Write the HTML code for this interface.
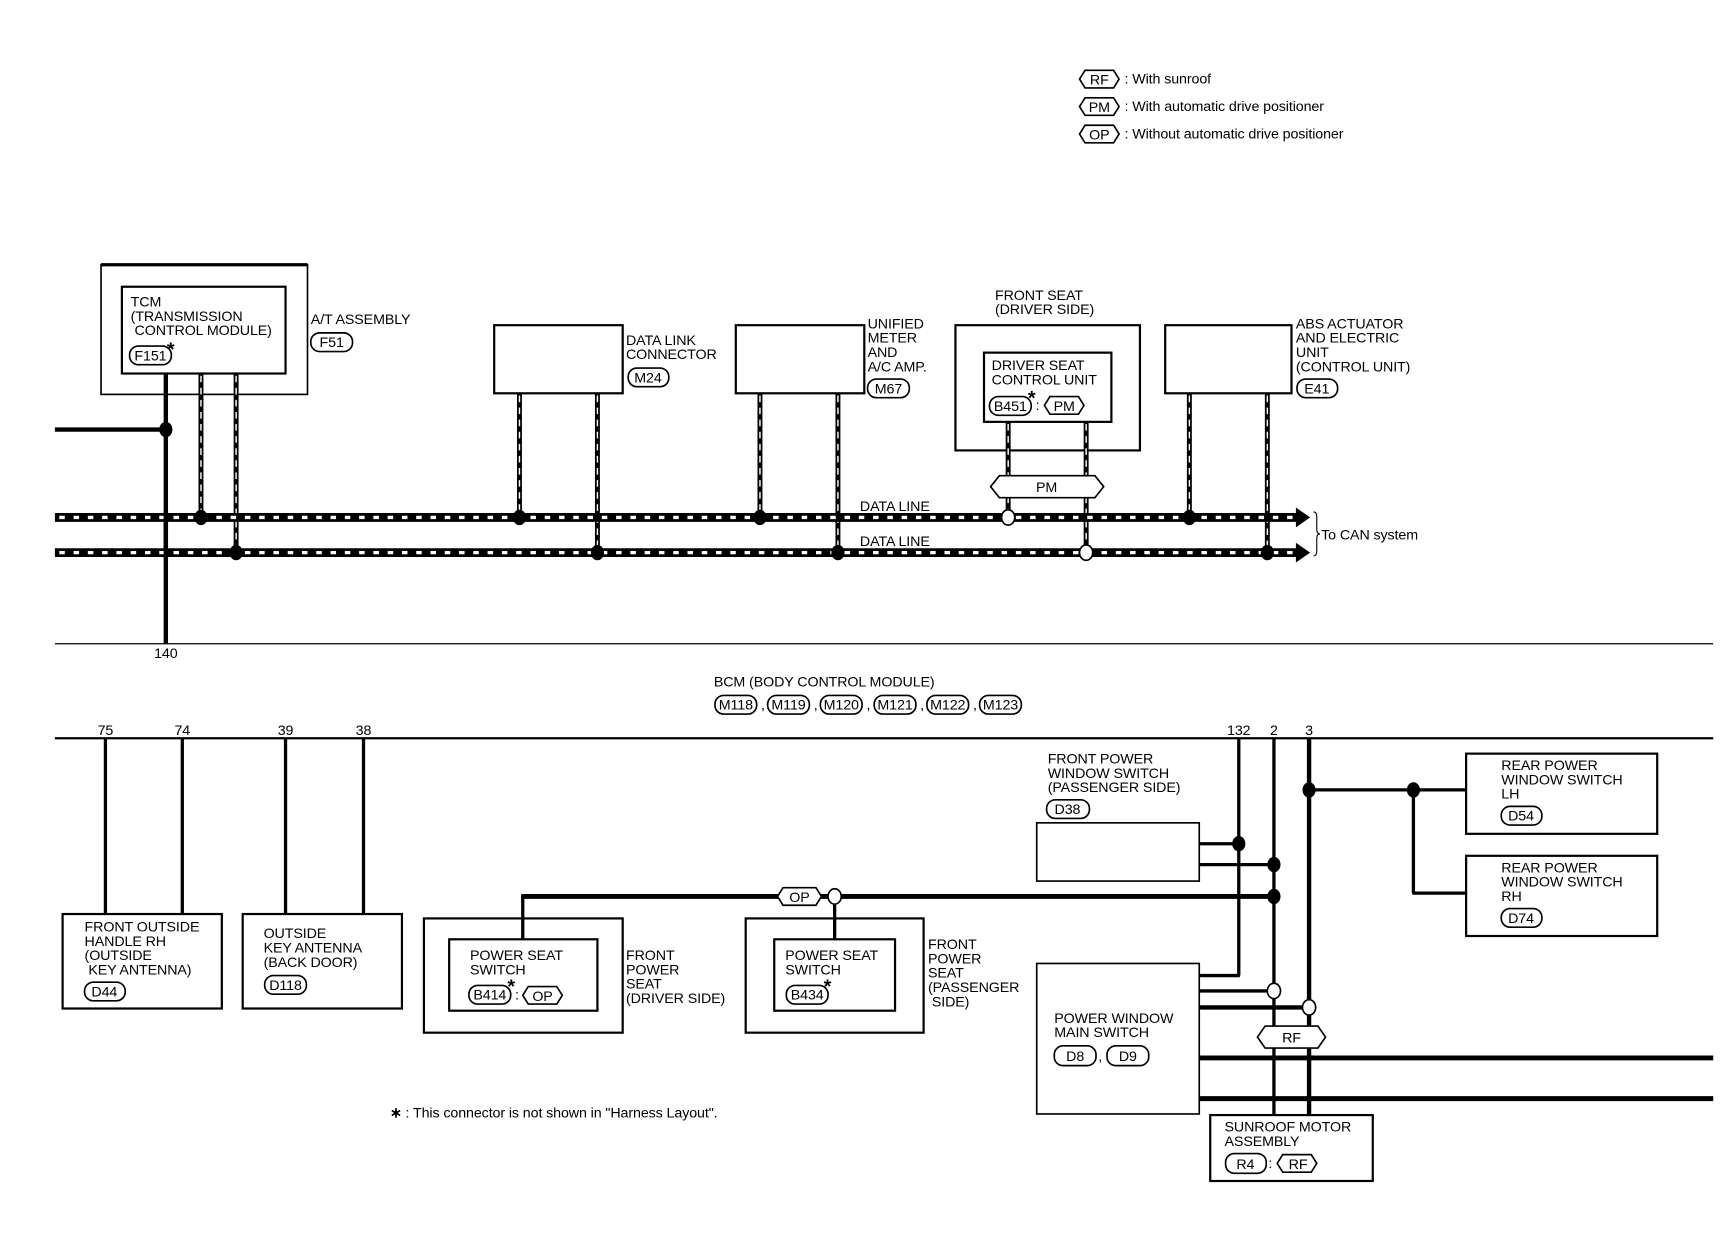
<!DOCTYPE html>
<html><head><meta charset="utf-8"><style>
html,body{margin:0;padding:0;background:#fff;}
svg{display:block}
text{font-family:"Liberation Sans",sans-serif;font-size:13px;fill:#000;letter-spacing:-0.1px}
.c{text-anchor:middle}
.s{font-size:18px;font-weight:bold}
</style></head><body>
<svg width="1722" height="1248" viewBox="0 0 1568 1136" preserveAspectRatio="none" xmlns="http://www.w3.org/2000/svg">
<g fill="none" stroke="#000">
<path d="M983,72 l5,-8 h26 l5,8 l-5,8 h-26z" stroke-width="1.5"/>
<path d="M983,97 l5,-8 h26 l5,8 l-5,8 h-26z" stroke-width="1.5"/>
<path d="M983,122 l5,-8 h26 l5,8 l-5,8 h-26z" stroke-width="1.5"/>

<rect x="92" y="241" width="188" height="118" stroke-width="1.5"/>
<line x1="92" y1="241" x2="280" y2="241" stroke-width="3"/>
<rect x="111" y="261" width="149" height="79" stroke-width="2"/>
<rect x="118" y="315" width="38" height="17" rx="8" stroke-width="1.5"/>
<rect x="283" y="303" width="38" height="17" rx="8" stroke-width="1.5"/>
<rect x="450" y="296" width="117" height="62" stroke-width="2"/>
<rect x="572" y="335" width="37" height="17" rx="8" stroke-width="1.5"/>
<rect x="670" y="296" width="117" height="62" stroke-width="2"/>
<rect x="790" y="345" width="38" height="17" rx="8" stroke-width="1.5"/>
<rect x="870" y="296" width="168" height="114" stroke-width="2"/>
<rect x="896" y="321" width="116" height="63" stroke-width="2"/>
<rect x="901" y="361" width="38" height="17" rx="8" stroke-width="1.5"/>
<path d="M951,369 l5,-8 h26 l5,8 l-5,8 h-26z" stroke-width="1.5"/>
<rect x="1061" y="296" width="115" height="62" stroke-width="2"/>
<rect x="1181" y="345" width="37" height="17" rx="8" stroke-width="1.5"/>

<line x1="151" y1="340" x2="151" y2="586" stroke-width="4"/>
<line x1="50" y1="391" x2="151" y2="391" stroke-width="4"/>
</g>

<g stroke-linecap="butt">
<g stroke="#000" stroke-width="4.5">
<line x1="183" y1="340" x2="183" y2="471"/><line x1="215" y1="340" x2="215" y2="503"/>
<line x1="473" y1="358" x2="473" y2="471"/><line x1="544" y1="358" x2="544" y2="503"/>
<line x1="692" y1="358" x2="692" y2="471"/><line x1="763" y1="358" x2="763" y2="503"/>
<line x1="918" y1="384" x2="918" y2="471"/><line x1="989" y1="384" x2="989" y2="503"/>
<line x1="1083" y1="358" x2="1083" y2="471"/><line x1="1154" y1="358" x2="1154" y2="503"/>
</g>
<g stroke="#fff" stroke-width="1.3" stroke-dasharray="6,5">
<line x1="183" y1="342" x2="183" y2="466"/><line x1="215" y1="342" x2="215" y2="498"/>
<line x1="473" y1="360" x2="473" y2="466"/><line x1="544" y1="360" x2="544" y2="498"/>
<line x1="692" y1="360" x2="692" y2="466"/><line x1="763" y1="360" x2="763" y2="498"/>
<line x1="918" y1="386" x2="918" y2="466"/><line x1="989" y1="386" x2="989" y2="498"/>
<line x1="1083" y1="360" x2="1083" y2="466"/><line x1="1154" y1="360" x2="1154" y2="498"/>
</g>
<line x1="50" y1="471" x2="1182" y2="471" stroke="#000" stroke-width="8"/>
<line x1="50" y1="503" x2="1182" y2="503" stroke="#000" stroke-width="8"/>
<line x1="54" y1="471" x2="1180" y2="471" stroke="#fff" stroke-width="3" stroke-dasharray="5,8"/>
<line x1="54" y1="503" x2="1180" y2="503" stroke="#fff" stroke-width="3" stroke-dasharray="5,8"/>
</g>
<path d="M1180,462 L1193,471 L1180,480Z" fill="#000"/>
<path d="M1180,494 L1193,503 L1180,512Z" fill="#000"/>
<path d="M1196,466 q3,0 3,4 v12 q0,4 3,4 q-3,0 -3,4 v12 q0,4 -3,4" fill="none" stroke="#000" stroke-width="1"/>
<line x1="151" y1="466" x2="151" y2="508" stroke="#000" stroke-width="4"/>
<path d="M902,443 l8,-10 h87 l8,10 l-8,10 h-87z" fill="#fff" stroke="#000" stroke-width="1.5"/>
<g fill="#000">
<ellipse cx="151" cy="391" rx="6" ry="7"/>
<ellipse cx="183" cy="471" rx="6" ry="7"/><ellipse cx="215" cy="503" rx="6" ry="7"/>
<ellipse cx="473" cy="471" rx="6" ry="7"/><ellipse cx="544" cy="503" rx="6" ry="7"/>
<ellipse cx="692" cy="471" rx="6" ry="7"/><ellipse cx="763" cy="503" rx="6" ry="7"/>
<ellipse cx="1083" cy="471" rx="6" ry="7"/><ellipse cx="1154" cy="503" rx="6" ry="7"/>
</g>
<g fill="#fff" stroke="#000" stroke-width="1.5">
<ellipse cx="918" cy="471" rx="6" ry="7"/><ellipse cx="989" cy="503" rx="6" ry="7"/>
</g>

<g stroke="#000" fill="none">
<line x1="50" y1="586" x2="1560" y2="586" stroke-width="1.2"/>
<line x1="50" y1="672" x2="1560" y2="672" stroke-width="2"/>
<rect x="651" y="633" width="38" height="17" rx="8" stroke-width="1.5"/>
<rect x="699" y="633" width="38" height="17" rx="8" stroke-width="1.5"/>
<rect x="747" y="633" width="38" height="17" rx="8" stroke-width="1.5"/>
<rect x="796" y="633" width="38" height="17" rx="8" stroke-width="1.5"/>
<rect x="844" y="633" width="38" height="17" rx="8" stroke-width="1.5"/>
<rect x="892" y="633" width="38" height="17" rx="8" stroke-width="1.5"/>

<g stroke-width="3">
<line x1="96" y1="672" x2="96" y2="832"/><line x1="166" y1="672" x2="166" y2="832"/>
<line x1="260" y1="672" x2="260" y2="832"/><line x1="331" y1="672" x2="331" y2="832"/>
</g>
<rect x="57" y="832" width="145" height="86" stroke-width="2"/>
<rect x="77" y="894" width="37" height="17" rx="8" stroke-width="1.5"/>
<rect x="221" y="832" width="145" height="86" stroke-width="2"/>
<rect x="241" y="888" width="38" height="17" rx="8" stroke-width="1.5"/>

<rect x="386" y="836" width="181" height="104" stroke-width="2"/>
<rect x="409" y="855" width="135" height="65" stroke-width="2"/>
<rect x="427" y="897" width="38" height="17" rx="8" stroke-width="1.5"/>
<path d="M476,906 l5,-8 h26 l5,8 l-5,8 h-26z" stroke-width="1.5"/>
<rect x="679" y="836" width="162" height="104" stroke-width="2"/>
<rect x="705" y="855" width="110" height="65" stroke-width="2"/>
<rect x="716" y="897" width="38" height="17" rx="8" stroke-width="1.5"/>

<line x1="476" y1="816" x2="1160" y2="816" stroke-width="4.5"/>
<line x1="476" y1="814" x2="476" y2="855" stroke-width="3"/>
<line x1="760" y1="816" x2="760" y2="855" stroke-width="3"/>

<rect x="944" y="749" width="148" height="53" stroke-width="1.5"/>
<rect x="953" y="728" width="39" height="17" rx="8" stroke-width="1.5"/>
<rect x="944" y="877" width="148" height="137" stroke-width="1.5"/>
<rect x="960" y="952" width="38" height="18" rx="8" stroke-width="1.5"/>
<rect x="1008" y="952" width="38" height="18" rx="8" stroke-width="1.5"/>
<rect x="1102" y="1015" width="148" height="60" stroke-width="2"/>
<rect x="1116" y="1050" width="37" height="18" rx="8" stroke-width="1.5"/>
<path d="M1163,1059 l5,-8 h26 l5,8 l-5,8 h-26z" stroke-width="1.5"/>
<rect x="1335" y="686" width="174" height="73" stroke-width="2"/>
<rect x="1367" y="734" width="37" height="17" rx="8" stroke-width="1.5"/>
<rect x="1335" y="779" width="174" height="73" stroke-width="2"/>
<rect x="1367" y="827" width="37" height="17" rx="8" stroke-width="1.5"/>

<g stroke-width="3">
<line x1="1128" y1="672" x2="1128" y2="888"/>
<line x1="1160" y1="672" x2="1160" y2="1015"/>
<line x1="1092" y1="768" x2="1128" y2="768"/>
<line x1="1092" y1="787" x2="1160" y2="787"/>
<line x1="1092" y1="888" x2="1129" y2="888"/>
<line x1="1092" y1="902" x2="1160" y2="902"/>
<line x1="1287" y1="719" x2="1287" y2="813"/>
<line x1="1286" y1="813" x2="1335" y2="813"/>
<line x1="1192" y1="719" x2="1335" y2="719"/>
</g>
<line x1="1192" y1="672" x2="1192" y2="1015" stroke-width="4"/>
<line x1="1092" y1="917" x2="1192" y2="917" stroke-width="4"/>
<line x1="1092" y1="963" x2="1560" y2="963" stroke-width="4.5"/>
<line x1="1092" y1="1000" x2="1560" y2="1000" stroke-width="4.5"/>
</g>
<path d="M708,816 l5,-8 h30 l5,8 l-5,8 h-30z" fill="#fff" stroke="#000" stroke-width="1.5"/>
<path d="M1145,944 l7,-10 h48 l7,10 l-7,10 h-48z" fill="#fff" stroke="#000" stroke-width="1.5"/>
<g fill="#000">
<ellipse cx="1128" cy="768" rx="6" ry="7"/><ellipse cx="1160" cy="787" rx="6" ry="7"/>
<ellipse cx="1160" cy="816" rx="6" ry="7"/><ellipse cx="1192" cy="719" rx="6" ry="7"/>
<ellipse cx="1287" cy="719" rx="6" ry="7"/>
</g>
<g fill="#fff" stroke="#000" stroke-width="1.5">
<ellipse cx="760" cy="816" rx="6" ry="7"/><ellipse cx="1160" cy="902" rx="6" ry="7"/>
<ellipse cx="1192" cy="917" rx="6" ry="7"/>
</g>

<g>
<text x="1001" y="77" class="c" font-size="12">RF</text>
<text x="1001" y="102" class="c" font-size="12">PM</text>
<text x="1001" y="127" class="c" font-size="12">OP</text>
<text x="1024" y="76" font-size="14">: With sunroof</text>
<text x="1024" y="101" font-size="14">: With automatic drive positioner</text>
<text x="1024" y="126" font-size="14">: Without automatic drive positioner</text>

<text x="119" y="279">TCM</text>
<text x="119" y="292">(TRANSMISSION</text>
<text x="119" y="305">&#160;CONTROL MODULE)</text>
<text x="137" y="328" class="c" font-size="12">F151</text>
<text x="152" y="324" class="s">*</text>
<text x="283" y="295">A/T ASSEMBLY</text>
<text x="302" y="316" class="c" font-size="12">F51</text>
<text x="570" y="314">DATA LINK</text>
<text x="570" y="327">CONNECTOR</text>
<text x="590" y="348" class="c" font-size="12">M24</text>
<text x="790" y="299">UNIFIED</text>
<text x="790" y="312">METER</text>
<text x="790" y="325">AND</text>
<text x="790" y="338">A/C AMP.</text>
<text x="809" y="358" class="c" font-size="12">M67</text>
<text x="906" y="273">FRONT SEAT</text>
<text x="906" y="286">(DRIVER SIDE)</text>
<text x="903" y="337">DRIVER SEAT</text>
<text x="903" y="350">CONTROL UNIT</text>
<text x="920" y="374" class="c" font-size="12">B451</text>
<text x="936" y="368" class="s">*</text>
<text x="943" y="373">:</text>
<text x="969" y="374" class="c" font-size="12">PM</text>
<text x="1180" y="299">ABS ACTUATOR</text>
<text x="1180" y="312">AND ELECTRIC</text>
<text x="1180" y="325">UNIT</text>
<text x="1180" y="338">(CONTROL UNIT)</text>
<text x="1199" y="358" class="c" font-size="12">E41</text>
<text x="953" y="448" class="c" font-size="12">PM</text>
<text x="783" y="465">DATA LINE</text>
<text x="783" y="497">DATA LINE</text>
<text x="1203" y="491">To CAN system</text>
<text x="151" y="599" class="c">140</text>

<text x="650" y="625">BCM (BODY CONTROL MODULE)</text>
<text x="670" y="646" class="c" font-size="12">M118</text>
<text x="718" y="646" class="c" font-size="12">M119</text>
<text x="766" y="646" class="c" font-size="12">M120</text>
<text x="815" y="646" class="c" font-size="12">M121</text>
<text x="863" y="646" class="c" font-size="12">M122</text>
<text x="911" y="646" class="c" font-size="12">M123</text>
<text x="693" y="646">,</text><text x="741" y="646">,</text><text x="789" y="646">,</text><text x="838" y="646">,</text><text x="886" y="646">,</text>
<text x="96" y="669" class="c" font-size="12">75</text>
<text x="166" y="669" class="c" font-size="12">74</text>
<text x="260" y="669" class="c" font-size="12">39</text>
<text x="331" y="669" class="c" font-size="12">38</text>
<text x="1128" y="669" class="c" font-size="12">132</text>
<text x="1160" y="669" class="c" font-size="12">2</text>
<text x="1192" y="669" class="c" font-size="12">3</text>

<text x="77" y="848">FRONT OUTSIDE</text>
<text x="77" y="861">HANDLE RH</text>
<text x="77" y="874">(OUTSIDE</text>
<text x="77" y="887">&#160;KEY ANTENNA)</text>
<text x="95" y="907" class="c" font-size="12">D44</text>
<text x="240" y="854">OUTSIDE</text>
<text x="240" y="867">KEY ANTENNA</text>
<text x="240" y="880">(BACK DOOR)</text>
<text x="260" y="901" class="c" font-size="12">D118</text>
<text x="428" y="874">POWER SEAT</text>
<text x="428" y="887">SWITCH</text>
<text x="446" y="910" class="c" font-size="12">B414</text>
<text x="462" y="904" class="s">*</text>
<text x="469" y="910">:</text>
<text x="494" y="911" class="c" font-size="12">OP</text>
<text x="570" y="874">FRONT</text>
<text x="570" y="887">POWER</text>
<text x="570" y="900">SEAT</text>
<text x="570" y="913">(DRIVER SIDE)</text>
<text x="715" y="874">POWER SEAT</text>
<text x="715" y="887">SWITCH</text>
<text x="735" y="910" class="c" font-size="12">B434</text>
<text x="750" y="904" class="s">*</text>
<text x="845" y="864">FRONT</text>
<text x="845" y="877">POWER</text>
<text x="845" y="890">SEAT</text>
<text x="845" y="903">(PASSENGER</text>
<text x="845" y="916">&#160;SIDE)</text>
<text x="728" y="821" class="c" font-size="12">OP</text>
<text x="355" y="1017"><tspan font-weight="bold">∗</tspan> : This connector is not shown in "Harness Layout".</text>

<text x="954" y="695">FRONT POWER</text>
<text x="954" y="708">WINDOW SWITCH</text>
<text x="954" y="721">(PASSENGER SIDE)</text>
<text x="972" y="741" class="c" font-size="12">D38</text>
<text x="960" y="931">POWER WINDOW</text>
<text x="960" y="944">MAIN SWITCH</text>
<text x="979" y="966" class="c" font-size="12">D8</text>
<text x="1000" y="966">,</text>
<text x="1027" y="966" class="c" font-size="12">D9</text>
<text x="1176" y="949" class="c" font-size="12">RF</text>
<text x="1115" y="1030">SUNROOF MOTOR</text>
<text x="1115" y="1043">ASSEMBLY</text>
<text x="1134" y="1064" class="c" font-size="12">R4</text>
<text x="1155" y="1063">:</text>
<text x="1182" y="1064" class="c" font-size="12">RF</text>
<text x="1367" y="701">REAR POWER</text>
<text x="1367" y="714">WINDOW SWITCH</text>
<text x="1367" y="727">LH</text>
<text x="1385" y="747" class="c" font-size="12">D54</text>
<text x="1367" y="794">REAR POWER</text>
<text x="1367" y="807">WINDOW SWITCH</text>
<text x="1367" y="820">RH</text>
<text x="1385" y="840" class="c" font-size="12">D74</text>
</g>
</svg>
</body></html>
